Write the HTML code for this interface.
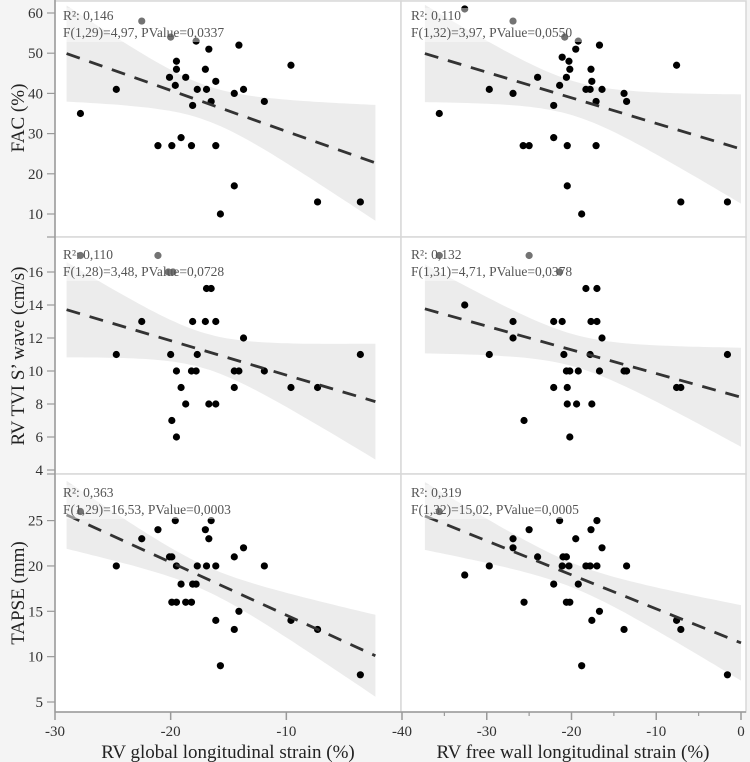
<!DOCTYPE html>
<html><head><meta charset="utf-8">
<style>
html,body{margin:0;padding:0;background:#f4f4f4;}
svg{display:block;}
svg text{font-family:"Liberation Serif","DejaVu Serif",serif;}
</style></head>
<body>
<svg id="chart" width="750" height="762" viewBox="0 0 750 762" xmlns="http://www.w3.org/2000/svg" font-family="Liberation Serif, DejaVu Serif, serif"></svg>
<script>
// ---- data ----
const gls_fac_x = [-22.5,-20.0,-27.8,-24.7,-21.1,-20.1,-19.9,-19.6,-19.5,-19.5,-19.1,-18.7,-18.2,-18.1,-17.8,-17.7,-17.0,-16.9,-16.7,-16.5,-16.1,-16.1,-15.7,-14.5,-14.5,-14.1,-13.7,-11.9,-9.6,-7.3,-3.6];
const gls_fac_y = [58,54,35,41,27,44,27,42,48,46,29,44,27,37,53,41,46,41,51,38,43,27,10,40,17,52,41,38,47,13,13];
const fw_fac_x = [-32.6,-26.9,-20.8,-19.2,-19.5,-16.7,-35.6,-29.7,-26.9,-24.0,-22.1,-21.4,-21.1,-20.3,-20.2,-20.6,-18.3,-17.8,-17.7,-17.6,-17.1,-16.4,-13.8,-13.5,-7.6,-22.1,-25.7,-25.0,-20.5,-17.1,-20.5,-18.8,-7.1,-1.6];
const fw_fac_y = [61,58,54,53,51,52,35,41,40,44,37,42,49,48,46,44,41,41,46,43,38,41,40,38,47,29,27,27,27,27,17,10,13,13];
const gls_s_x = [-27.8,-21.1,-20.2,-19.8,-22.5,-24.7,-20.0,-19.5,-19.1,-18.7,-19.9,-19.5,-18.1,-18.2,-17.8,-17.7,-17.0,-16.9,-16.5,-16.1,-16.7,-16.1,-13.7,-14.5,-14.1,-14.5,-11.9,-9.6,-7.3,-3.6];
const gls_s_y = [17,17,16,16,13,11,11,10,9,8,7,6,13,10,10,11,13,15,15,13,8,8,12,10,10,9,10,9,9,11];
const fw_s_x = [-35.6,-25.0,-21.4,-32.6,-26.9,-26.9,-29.7,-22.1,-21.1,-18.3,-17.0,-17.7,-17.0,-16.4,-20.9,-17.8,-20.6,-20.2,-19.2,-16.7,-13.8,-13.5,-22.1,-20.5,-20.5,-19.4,-17.6,-25.6,-20.2,-7.6,-7.1,-1.6];
const fw_s_y = [17,17,16,14,13,12,11,13,13,15,15,13,13,12,11,11,10,10,10,10,10,10,9,9,8,8,8,7,6,9,9,11];
const gls_t_x = [-27.8,-24.7,-22.5,-21.1,-20.1,-19.9,-19.6,-19.5,-19.1,-19.9,-19.5,-18.7,-18.2,-18.1,-17.8,-17.7,-17.0,-16.7,-16.5,-16.9,-16.1,-16.1,-15.7,-14.5,-14.5,-14.1,-13.7,-11.9,-9.6,-7.3,-3.6];
const gls_t_y = [26,20,23,24,21,21,25,20,18,16,16,16,16,18,18,20,24,23,25,20,20,14,9,21,13,15,22,20,14,13,8];
const fw_t_x = [-35.6,-32.6,-29.7,-26.9,-26.9,-25.0,-25.6,-24.0,-22.1,-21.4,-21.0,-20.6,-21.1,-20.3,-20.6,-20.2,-19.5,-19.2,-18.8,-18.3,-17.8,-17.0,-17.7,-17.0,-16.4,-16.7,-17.6,-13.8,-13.5,-7.6,-7.1,-1.6];
const fw_t_y = [26,19,20,23,22,24,16,21,18,25,21,21,20,20,16,16,23,18,9,20,20,20,24,25,22,15,14,13,20,14,13,8];
const facTicks = [10,20,30,40,50,60];
const sTicks = [4,6,8,10,12,14,16];
const tTicks = [5,10,15,20,25];
const glsTicks = [-30,-20,-10];
const fwTicks = [-40,-30,-20,-10,0];
const fwMinor = [-35,-25,-15,-5];
const stats = [
 ["R²: 0,146","F(1,29)=4,97, PValue=0,0337"],["R²: 0,110","F(1,32)=3,97, PValue=0,0550"],
 ["R²: 0,110","F(1,28)=3,48, PValue=0,0728"],["R²: 0,132","F(1,31)=4,71, PValue=0,0378"],
 ["R²: 0,363","F(1,29)=16,53, PValue=0,0003"],["R²: 0,319","F(1,32)=15,02, PValue=0,0005"]];

// ---- scales ----
const xL = v => 55 + (v + 30) * (347 / 30);
const xR = v => 402 + (v + 40) * (339 / 40);
const yFac = v => 13 + (60 - v) * 4.02;
const yS = v => 272 + (16 - v) * 16.5;
const yT = v => 702 - (v - 5) * 9.07;

const FF = '"Liberation Serif","DejaVu Serif",serif';
const svg = document.getElementById('chart');
const NS = 'http://www.w3.org/2000/svg';
function mk(tag, at, parent) {
  const e = document.createElementNS(NS, tag);
  for (const k in at) e.setAttribute(k, at[k]);
  if (tag === 'text') e.style.fontFamily = FF;
  (parent || svg).appendChild(e);
  return e;
}

const rows = [[1,237],[237,474],[474,712]];
const cols = [[55,401],[401,746]];
rows.forEach((r,i)=>cols.forEach((c,j)=>{
  const p = mk('rect',{x:c[0],y:r[0],width:c[1]-c[0],height:r[1]-r[0],fill:'#fff',stroke:'#d8d8d8','stroke-width':1.5});
  
  
}));

function panel(xs, ys, sx, sy, xr, idx, px, py) {
  const g = mk('g',{});
  
  
  const n = xs.length;
  const mx = xs.reduce((a,b)=>a+b,0)/n, my = ys.reduce((a,b)=>a+b,0)/n;
  let sxx=0, sxy=0;
  for (let i=0;i<n;i++){sxx+=(xs[i]-mx)**2; sxy+=(xs[i]-mx)*(ys[i]-my);}
  const b = sxy/sxx, a = my - b*mx;
  let sse=0; for (let i=0;i<n;i++) sse+=(ys[i]-a-b*xs[i])**2;
  const s = Math.sqrt(sse/(n-2)), t = 2.04;
  const up=[], lo=[];
  for (let k=0;k<=60;k++){
    const x = xr[0] + (xr[1]-xr[0])*k/60;
    const yh = a + b*x, h = t*s*Math.sqrt(1/n + (x-mx)**2/sxx);
    up.push(sx(x).toFixed(1)+','+sy(yh+h).toFixed(1));
    lo.unshift(sx(x).toFixed(1)+','+sy(yh-h).toFixed(1));
  }
  const band = mk('polygon',{points:up.concat(lo).join(' '),fill:'#ececec'},g);
  
  
  for (let i=0;i<n;i++){
    const c = mk('circle',{cx:sx(xs[i]),cy:sy(ys[i]),r:3.6,fill:'#000'},g);
    
    
  }
  const ln = mk('line',{x1:sx(xr[0]),y1:sy(a+b*xr[0]),x2:sx(xr[1]),y2:sy(a+b*xr[1]),stroke:'#333','stroke-width':2.8,'stroke-dasharray':'14,10'},g);
  
  
  const st = stats[idx];
  const bg = mk('rect',{x:px-2,y:py-12,width:st[1].length*6.4,height:34,fill:'#fff','fill-opacity':0.45},g);
  
  
  const t1 = mk('text',{x:px,y:py,'font-size':13.5,fill:'#555'},g); t1.textContent = st[0];
  
  
  const t2 = mk('text',{x:px,y:py+17,'font-size':13.5,fill:'#555'},g); t2.textContent = st[1];
  
  
}
const LR=[-29,-2.3], RR=[-37.3,0];
panel(gls_fac_x,gls_fac_y,xL,yFac,LR,0,63,20);
panel(fw_fac_x,fw_fac_y,xR,yFac,RR,1,411,20);
panel(gls_s_x,gls_s_y,xL,yS,LR,2,63,259);
panel(fw_s_x,fw_s_y,xR,yS,RR,3,411,259);
panel(gls_t_x,gls_t_y,xL,yT,LR,4,63,497);
panel(fw_t_x,fw_t_y,xR,yT,RR,5,411,497);

const ax = mk('g',{stroke:'#999','stroke-width':1.5});


mk('line',{x1:55,y1:0,x2:55,y2:712},ax);
mk('line',{x1:55,y1:712,x2:746,y2:712},ax);
function yAxis(ticks, sy, nm){
  ticks.forEach(v=>{
    mk('line',{x1:47,y1:sy(v),x2:55,y2:sy(v),stroke:'#999','stroke-width':1.2});
    const t = mk('text',{x:43,y:sy(v)+5,'text-anchor':'end','font-size':15,fill:'#333'});
    t.textContent = v;
    
    
  });
}
yAxis(facTicks,yFac,'fac');
yAxis(sTicks,yS,'s-wave');
yAxis(tTicks,yT,'tapse');
[237,474].forEach(y=>mk('line',{x1:47,y1:y,x2:55,y2:y,stroke:'#999','stroke-width':1.2}));
function xAxis(ticks, sx, nm){
  ticks.forEach(v=>{
    mk('line',{x1:sx(v),y1:712,x2:sx(v),y2:720,stroke:'#999','stroke-width':1.5});
    const t = mk('text',{x:sx(v),y:736,'text-anchor':'middle','font-size':15,fill:'#333'});
    t.textContent = v;
    
    
  });
}
xAxis(glsTicks,xL,'gls');
xAxis(fwTicks,xR,'fw');
fwMinor.forEach(v=>mk('line',{x1:xR(v),y1:712,x2:xR(v),y2:716,stroke:'#999','stroke-width':1.2}));

function title(txt,x,y,rot,nm){
  const t = mk('text',{x:x,y:y,'text-anchor':'middle','font-size':19,fill:'#222',transform:rot?`rotate(-90 ${x} ${y})`:''});
  t.textContent = txt;
  
  
}
title('RV global longitudinal strain (%)',228,758,false,'x-axis-title-gls');
title('RV free wall longitudinal strain (%)',573,758,false,'x-axis-title-fw');
title('FAC (%)',24,118,true,'y-axis-title-fac');
title('RV TVI S\u2019 wave (cm/s)',24,356,true,'y-axis-title-s-wave');
title('TAPSE (mm)',24,593,true,'y-axis-title-tapse');
</script>
</body></html>
